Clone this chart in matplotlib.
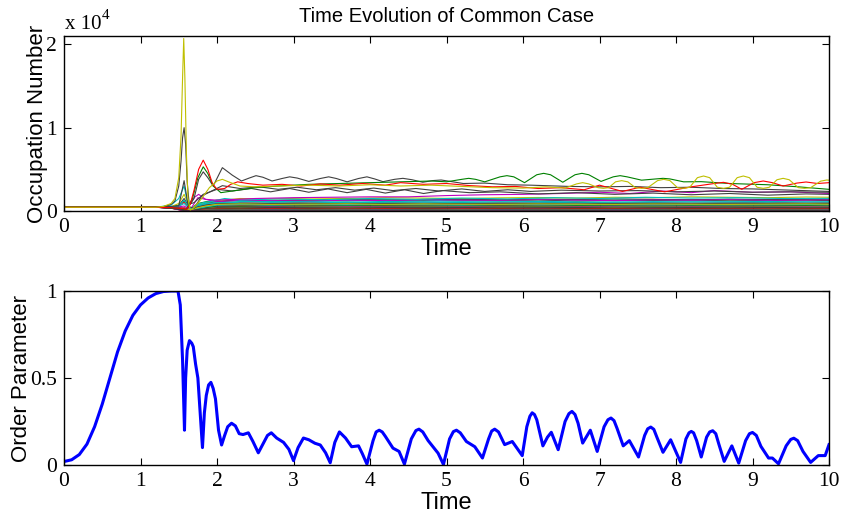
import matplotlib
matplotlib.use("Agg")
import matplotlib.pyplot as plt

# ---------------- data ----------------
# order parameter (bottom panel), (time, value)
order_points = [
    (0, 0.02), (0.1, 0.03), (0.2, 0.06), (0.3, 0.12), (0.4, 0.22), (0.5, 0.35),
    (0.6, 0.5), (0.7, 0.65), (0.8, 0.77), (0.9, 0.86), (1.0, 0.92), (1.1, 0.96),
    (1.2, 0.985), (1.3, 0.997), (1.4, 1.0), (1.49, 1.0), (1.52, 0.92), (1.55, 0.6),
    (1.565, 0.35), (1.575, 0.2), (1.59, 0.5), (1.61, 0.66), (1.64, 0.715),
    (1.67, 0.7), (1.69, 0.68), (1.72, 0.58), (1.75, 0.5), (1.78, 0.3), (1.81, 0.1),
    (1.835, 0.3), (1.86, 0.4), (1.89, 0.46), (1.92, 0.475), (1.95, 0.44),
    (1.98, 0.38), (2.02, 0.2), (2.06, 0.115), (2.1, 0.17), (2.14, 0.22),
    (2.19, 0.24), (2.24, 0.225), (2.29, 0.18), (2.34, 0.175), (2.41, 0.185),
    (2.47, 0.135), (2.54, 0.07), (2.6, 0.12), (2.66, 0.17), (2.71, 0.185),
    (2.78, 0.155), (2.87, 0.13), (2.94, 0.09), (3.0, 0.025), (3.06, 0.1),
    (3.13, 0.155), (3.2, 0.145), (3.28, 0.125), (3.35, 0.115), (3.42, 0.07),
    (3.48, 0.013), (3.54, 0.13), (3.6, 0.19), (3.68, 0.155), (3.76, 0.105),
    (3.85, 0.11), (3.9, 0.065), (3.96, 0.005), (4.04, 0.14), (4.08, 0.19),
    (4.12, 0.2), (4.16, 0.19), (4.2, 0.165), (4.3, 0.097), (4.38, 0.078),
    (4.45, 0.005), (4.54, 0.15), (4.6, 0.198), (4.64, 0.206), (4.69, 0.19),
    (4.76, 0.14), (4.89, 0.068), (4.96, 0.003), (5.04, 0.15), (5.09, 0.192),
    (5.13, 0.2), (5.18, 0.185), (5.26, 0.135), (5.37, 0.105), (5.47, 0.04),
    (5.55, 0.15), (5.59, 0.195), (5.63, 0.206), (5.68, 0.19), (5.76, 0.117),
    (5.86, 0.135), (5.99, 0.054), (6.05, 0.22), (6.09, 0.28), (6.12, 0.3),
    (6.15, 0.29), (6.18, 0.26), (6.26, 0.11), (6.32, 0.16), (6.37, 0.188),
    (6.46, 0.088), (6.55, 0.25), (6.6, 0.295), (6.64, 0.308), (6.68, 0.29),
    (6.72, 0.24), (6.78, 0.126), (6.88, 0.2), (6.97, 0.078), (7.06, 0.22),
    (7.11, 0.26), (7.15, 0.27), (7.19, 0.255), (7.23, 0.21), (7.31, 0.11),
    (7.39, 0.14), (7.51, 0.046), (7.59, 0.17), (7.63, 0.208), (7.67, 0.218),
    (7.71, 0.205), (7.75, 0.16), (7.83, 0.073), (7.93, 0.145), (8.06, 0.015),
    (8.13, 0.15), (8.17, 0.185), (8.2, 0.193), (8.23, 0.185), (8.27, 0.14),
    (8.33, 0.046), (8.4, 0.16), (8.44, 0.19), (8.48, 0.197), (8.52, 0.18),
    (8.56, 0.12), (8.63, 0.021), (8.73, 0.11), (8.82, 0.011), (8.91, 0.14),
    (8.96, 0.18), (9.0, 0.187), (9.05, 0.17), (9.11, 0.107), (9.21, 0.04),
    (9.26, 0.04), (9.34, 0.007), (9.44, 0.11), (9.5, 0.147), (9.54, 0.154),
    (9.59, 0.14), (9.66, 0.078), (9.76, 0.015), (9.86, 0.054), (9.95, 0.054),
    (10.0, 0.117),
]
order_t = [p[0] for p in order_points]
order_v = [p[1] for p in order_points]

# occupation numbers (top panel): the prominent modes
spike_y_t = [0, 1.2, 1.3, 1.4, 1.45, 1.5, 1.53, 1.55, 1.565, 1.58, 1.6, 1.62, 1.65, 1.7,
             1.8, 1.9, 2.0, 2.07, 2.15, 2.3, 2.5, 2.8, 3.2, 3.6, 4.0, 4.4, 4.8, 5.2,
             5.6, 6.0, 6.3, 6.55, 6.7, 6.78, 6.86, 6.98, 7.05, 7.12, 7.21, 7.29, 7.37,
             7.47, 7.55, 7.63, 7.76, 7.84, 7.92, 8.02, 8.1, 8.18, 8.28, 8.36, 8.44,
             8.54, 8.62, 8.7, 8.8, 8.88, 8.96, 9.06, 9.14, 9.22, 9.32, 9.4, 9.48, 9.6,
             9.68, 9.76, 9.89, 9.97, 10.0]
spike_y_n = [450, 450, 550, 900, 1500, 4000, 9000, 16000, 20700, 16000, 7000, 1500, 100,
             400, 1500, 2800, 3600, 3800, 3500, 3000, 2900, 3000, 3100, 3000, 3150,
             3000, 3100, 2950, 2800, 2750, 2900, 2750, 3250, 3400, 3250, 2800, 2720,
             2800, 3500, 3640, 3500, 2800, 2720, 2800, 3650, 3800, 3650, 2800, 2720,
             2850, 4000, 4200, 4000, 2850, 2720, 2850, 4000, 4200, 4000, 2850, 2720,
             2850, 3750, 3920, 3750, 2800, 2720, 2800, 3580, 3720, 3700]

spike_k_t = [0, 1.2, 1.3, 1.4, 1.45, 1.5, 1.53, 1.55, 1.57, 1.59, 1.61, 1.64, 1.7, 1.8,
             2.07, 2.3, 2.55, 2.8, 3.05, 3.3, 3.55, 3.8, 4.05, 4.3, 4.6, 4.9, 5.2, 5.5,
             5.8, 6.1, 6.5, 7.0, 7.5, 8.0, 8.5, 9.0, 9.5, 10.0]
spike_k_n = [450, 450, 520, 800, 1200, 3000, 6000, 8800, 10000, 8000, 3500, 500, 300,
             1800, 3040, 2700, 2900, 2600, 2850, 2550, 2800, 2500, 2750, 2450, 2700,
             2400, 2650, 2350, 2550, 2350, 2500, 2400, 2450, 2300, 2400, 2250, 2300,
             2250]

red_t = [0, 1.2, 1.4, 1.55, 1.6, 1.65, 1.7, 1.76, 1.82, 1.88, 1.94, 2.0, 2.1, 2.18, 2.27,
         2.4, 2.6, 2.85, 3.1, 3.35, 3.6, 3.9, 4.2, 4.4, 4.7, 5.0, 5.3, 5.6, 5.9, 6.2,
         6.5, 6.8, 7.0, 7.3, 7.53, 7.85, 8.2, 8.5, 8.62, 8.74, 8.86, 9.02, 9.14, 9.26,
         9.4, 9.58, 9.7, 9.85, 10.0]
red_n = [450, 450, 400, 300, 200, 800, 2500, 5000, 6100, 5000, 3300, 2600, 2700, 3200,
         3500, 3300, 3100, 3200, 3000, 3250, 3100, 3300, 3100, 3400, 3200, 3300, 3050,
         2900, 2950, 2700, 2800, 2550, 3100, 2350, 2850, 2300, 2900, 3300, 3440, 3200,
         2600, 3400, 3600, 3400, 3000, 3350, 3480, 3300, 3400]

green_t = [0, 1.2, 1.5, 1.6, 1.68, 1.75, 1.82, 1.88, 1.95, 2.05, 2.2, 2.5, 2.8, 3.2, 3.6,
           4.0, 4.4, 4.8, 5.0, 5.2, 5.29, 5.38, 5.5, 5.7, 5.79, 5.88, 6.02, 6.18, 6.27,
           6.36, 6.52, 6.68, 6.77, 6.86, 7.02, 7.18, 7.27, 7.36, 7.55, 7.74, 7.83,
           7.92, 8.1, 8.33, 8.7, 9.2, 9.6, 10.0]
green_n = [450, 450, 350, 200, 1500, 4000, 5300, 4500, 3000, 2200, 2400, 2800, 3000,
           3200, 3300, 3400, 3500, 3600, 3500, 3800, 3920, 3800, 3500, 4100, 4240, 4100,
           3400, 4350, 4520, 4350, 3450, 4350, 4520, 4350, 3550, 4100, 4240, 4100, 3700,
           3850, 3920, 3850, 3500, 3520, 3300, 3150, 2900, 2600]

grey_top_t = [0, 1.2, 1.5, 1.6, 1.7, 1.76, 1.82, 1.88, 1.95, 2.07, 2.2, 2.32, 2.42, 2.51,
              2.6, 2.72, 2.85, 2.95, 3.05, 3.2, 3.35, 3.46, 3.56, 3.7, 3.85, 3.96, 4.06,
              4.17, 4.32, 4.43, 4.55, 4.69, 4.82, 4.93, 5.05, 5.22, 5.5, 5.8, 6.1, 6.6,
              7.0, 7.4, 7.8, 8.2, 8.6, 9.0, 9.5, 10.0]
grey_top_n = [450, 450, 300, 150, 1500, 3800, 4700, 4000, 3000, 5200, 4300, 3600, 3950,
              4240, 4050, 3600, 3900, 4100, 3950, 3550, 3900, 4100, 3900, 3500, 3900,
              4100, 3850, 3520, 3800, 3920, 3750, 3450, 3650, 3720, 3550, 3300, 3350,
              3150, 3100, 2950, 2900, 2950, 2800, 2850, 2700, 2650, 2500, 2350]

grey_low_t = [0, 1.2, 1.5, 1.57, 1.62, 1.7, 1.82, 2.0, 2.2, 2.45, 2.7, 2.95, 3.2, 3.45,
              3.7, 3.95, 4.2, 4.45, 4.7, 4.95, 5.3, 5.7, 6.2, 6.7, 7.2, 7.7, 8.2, 8.7,
              9.2, 9.7, 10.0]
grey_low_n = [450, 450, 600, 3640, 800, 1000, 2000, 2600, 2400, 2700, 2300, 2700, 2250,
              2650, 2200, 2600, 2150, 2550, 2100, 2450, 2200, 2300, 2050, 2200, 2000,
              2150, 1950, 2100, 1900, 2050, 2000]

cyan_t = [0, 1.2, 1.4, 1.5, 1.57, 1.62, 1.66, 1.75, 1.82, 1.95, 2.1, 2.3, 2.8, 3.4, 4.0,
          4.6, 5.2, 5.8, 6.4, 7.0, 7.6, 8.2, 8.8, 9.4, 10.0]
cyan_n = [450, 450, 700, 1500, 3000, 800, 200, 800, 1000, 1200, 1500, 1300, 1450, 1350,
          1500, 1400, 1550, 1450, 1600, 1500, 1650, 1550, 1600, 1500, 1520]

magenta_t = [0, 1.2, 1.5, 1.6, 1.7, 1.76, 1.85, 2.0, 2.5, 3.0, 3.5, 4.0, 4.5, 5.0, 5.5,
             6.0, 6.5, 7.0, 7.4, 7.8, 8.2, 8.5, 9.0, 9.5, 10.0]
magenta_n = [450, 450, 400, 300, 1600, 2000, 1400, 1300, 1500, 1600, 1650, 1700, 1700,
             1850, 1950, 2000, 2100, 2250, 2100, 2400, 2200, 2450, 2250, 2300, 2100]

# the dense band of weakly occupied modes
band_t = [0, 1.2, 1.4, 1.5, 1.57, 1.65, 1.75, 1.85, 2.0, 2.3, 2.7, 3.2, 3.7, 4.2, 4.7,
          5.2, 5.7, 6.2, 6.7, 7.2, 7.7, 8.2, 8.7, 9.2, 9.7, 10.0]
band_levels = [
    [450, 450, 420, 380, 250, 120, 350, 600, 700, 750, 820, 780, 850, 800, 760, 820, 780, 800, 760, 820, 790, 760, 800, 770, 820, 800],
    [450, 450, 500, 700, 1200, 250, 900, 1100, 1300, 1200, 1250, 1300, 1220, 1350, 1280, 1300, 1250, 1320, 1200, 1280, 1250, 1300, 1220, 1260, 1300, 1250],
    [450, 450, 460, 600, 1080, 200, 700, 800, 900, 1000, 950, 1050, 980, 1000, 1060, 950, 1000, 980, 1050, 990, 1020, 960, 1000, 1040, 980, 1000],
    [450, 450, 430, 350, 200, 100, 400, 650, 800, 1100, 1200, 1150, 1250, 1300, 1200, 1350, 1300, 1400, 1350, 1300, 1380, 1320, 1400, 1350, 1380, 1400],
    [450, 450, 400, 300, 150, 80, 250, 400, 500, 550, 520, 600, 560, 580, 620, 560, 600, 580, 540, 600, 620, 580, 560, 600, 580, 600],
    [450, 450, 520, 900, 2000, 300, 800, 1000, 1200, 1500, 1450, 1550, 1500, 1600, 1550, 1500, 1580, 1620, 1550, 1650, 1600, 1700, 1650, 1600, 1680, 1650],
    [450, 450, 480, 650, 1500, 250, 600, 900, 1100, 1300, 1250, 1350, 1400, 1300, 1380, 1400, 1350, 1420, 1380, 1450, 1400, 1350, 1420, 1380, 1400, 1420],
    [450, 450, 410, 320, 180, 100, 200, 300, 350, 400, 380, 420, 400, 380, 420, 400, 410, 380, 420, 400, 390, 420, 400, 380, 410, 400],
    [450, 450, 390, 280, 120, 60, 150, 250, 300, 280, 320, 300, 340, 320, 300, 330, 310, 340, 300, 320, 330, 300, 320, 340, 310, 320],
    [450, 450, 440, 420, 400, 150, 500, 700, 600, 650, 700, 680, 650, 720, 700, 680, 650, 700, 720, 680, 700, 730, 690, 710, 700, 720],
    [450, 450, 470, 550, 900, 180, 600, 800, 1000, 900, 1000, 950, 1050, 1000, 980, 1020, 1100, 1050, 1000, 1080, 1050, 1100, 1070, 1050, 1100, 1080],
    [450, 450, 420, 370, 280, 120, 350, 500, 450, 480, 500, 460, 520, 500, 480, 520, 500, 490, 520, 500, 480, 510, 500, 520, 490, 500],
    [450, 450, 400, 300, 150, 60, 200, 350, 400, 450, 420, 460, 440, 430, 460, 450, 440, 470, 450, 430, 460, 440, 450, 470, 440, 450],
    [450, 450, 430, 400, 350, 140, 500, 700, 900, 850, 900, 880, 920, 900, 870, 910, 880, 900, 930, 890, 910, 880, 920, 900, 890, 910],
    [450, 450, 390, 250, 100, 40, 100, 150, 200, 180, 220, 200, 190, 210, 200, 220, 190, 210, 200, 190, 220, 200, 210, 190, 200, 210],
    [450, 450, 420, 350, 250, 100, 250, 400, 600, 580, 620, 600, 640, 620, 600, 630, 610, 600, 640, 620, 600, 630, 610, 620, 640, 620],
    [450, 450, 380, 260, 120, 50, 120, 200, 250, 230, 260, 240, 250, 270, 240, 250, 260, 240, 250, 270, 240, 250, 260, 240, 250, 260],
    [450, 450, 410, 320, 200, 90, 300, 500, 700, 750, 720, 760, 740, 780, 750, 720, 760, 740, 770, 750, 730, 760, 740, 750, 770, 750],
    [450, 450, 460, 500, 600, 150, 1600, 1400, 1100, 1300, 1250, 1200, 1300, 1250, 1350, 1300, 1280, 1350, 1300, 1250, 1320, 1300, 1350, 1280, 1300, 1320],
    [450, 450, 370, 220, 80, 30, 80, 120, 150, 140, 160, 150, 140, 160, 150, 140, 160, 150, 140, 160, 150, 140, 160, 150, 140, 150],
    [450, 450, 400, 300, 160, 70, 180, 300, 400, 380, 420, 400, 380, 410, 400, 420, 390, 400, 420, 380, 400, 410, 390, 420, 400, 400],
    [450, 450, 360, 200, 60, 20, 50, 80, 100, 90, 110, 100, 90, 110, 100, 90, 110, 100, 90, 110, 100, 90, 110, 100, 90, 100],
    [450, 450, 350, 180, 50, 20, 40, 60, 80, 70, 60, 80, 70, 60, 80, 70, 60, 80, 70, 60, 80, 70, 60, 80, 70, 60],
    [450, 450, 340, 160, 40, 10, 30, 50, 60, 50, 40, 60, 50, 40, 60, 50, 40, 60, 50, 40, 50, 60, 40, 50, 60, 50],
    [450, 450, 480, 600, 1300, 220, 700, 900, 1000, 1100, 1150, 1100, 1050, 1150, 1100, 1120, 1080, 1150, 1100, 1050, 1120, 1080, 1100, 1150, 1080, 1100],
    [450, 450, 330, 150, 30, 10, 20, 30, 40, 30, 20, 30, 40, 30, 20, 30, 40, 30, 20, 30, 40, 30, 20, 30, 40, 30],
    [450, 450, 440, 410, 350, 130, 400, 600, 800, 850, 800, 820, 860, 800, 840, 820, 800, 850, 820, 800, 840, 820, 800, 830, 850, 820],
    [450, 450, 350, 170, 40, 15, 40, 60, 80, 70, 90, 80, 70, 90, 80, 70, 90, 80, 70, 90, 80, 70, 90, 80, 70, 80],
]

x_ticks = [0, 1, 2, 3, 4, 5, 6, 7, 8, 9, 10]

# MATLAB's old default colour order
ml_colors = [(0, 0, 1), (0, 0.5, 0), (1, 0, 0), (0, 0.75, 0.75),
             (0.75, 0, 0.75), (0.75, 0.75, 0), (0.25, 0.25, 0.25)]
ml = dict(zip('bgrcmyk', ml_colors))

SERIF = 'Liberation Serif'
SANS = 'Liberation Sans'


def matlab_axes(ax):
    ax.tick_params(direction='in', length=5, width=0.8, top=True, right=True,
                   labelsize=15.5, pad=5)
    for lab in ax.get_xticklabels() + ax.get_yticklabels():
        lab.set_fontfamily(SERIF)
    for s in ax.spines.values():
        s.set_linewidth(1.0)


fig = plt.figure(figsize=(8.43, 5.16), dpi=100)
ax1 = fig.add_axes([64 / 843, 1 - 211 / 516, 765 / 843, 175 / 516])
ax2 = fig.add_axes([64 / 843, 1 - 465 / 516, 765 / 843, 174 / 516])

# top panel
for i, row in enumerate(band_levels):
    ax1.plot(band_t, row, color=ml_colors[i % 7], lw=0.8)
ax1.plot(cyan_t, cyan_n, color=ml['c'], lw=0.8)
ax1.plot(magenta_t, magenta_n, color=ml['m'], lw=0.8)
ax1.plot(grey_low_t, grey_low_n, color=ml['k'], lw=0.8)
ax1.plot(spike_k_t, spike_k_n, color=ml['k'], lw=0.8)
ax1.plot(grey_top_t, grey_top_n, color=ml['k'], lw=0.8)
ax1.plot(green_t, green_n, color=ml['g'], lw=0.8)
ax1.plot(red_t, red_n, color=ml['r'], lw=0.8)
ax1.plot(spike_y_t, spike_y_n, color=ml['y'], lw=0.8)

ax1.set_xlim(0, 10)
ax1.set_ylim(0, 21000)
ax1.set_xticks(x_ticks)
ax1.set_yticks([0, 10000, 20000])
ax1.set_yticklabels(['0', '1', '2'])
matlab_axes(ax1)
ax1.set_xlabel('Time', fontsize=17, family=SANS, labelpad=1)
ax1.set_ylabel('Occupation Number', fontsize=16, family=SANS, labelpad=-1)
ax1.set_title('Time Evolution of Common Case', fontsize=14.5, family=SANS, pad=10)
ax1.text(0.001, 1.012, 'x 10', transform=ax1.transAxes, family=SERIF,
         fontsize=15, ha='left', va='bottom')
ax1.annotate('4', xy=(0, 1), xycoords='axes fraction', xytext=(38, 14),
             textcoords='offset pixels', family=SERIF, fontsize=11,
             ha='left', va='bottom')

# bottom panel
ax2.plot(order_t, order_v, color=(0, 0, 1), lw=2.2)
ax2.set_xlim(0, 10)
ax2.set_ylim(0, 1)
ax2.set_xticks(x_ticks)
ax2.set_yticks([0, 0.5, 1])
ax2.set_yticklabels(['0', '0.5', '1'])
matlab_axes(ax2)
ax2.set_xlabel('Time', fontsize=17, family=SANS, labelpad=1)
ax2.set_ylabel('Order Parameter', fontsize=16, family=SANS, labelpad=-1)

fig.savefig('out.png', dpi=100)
